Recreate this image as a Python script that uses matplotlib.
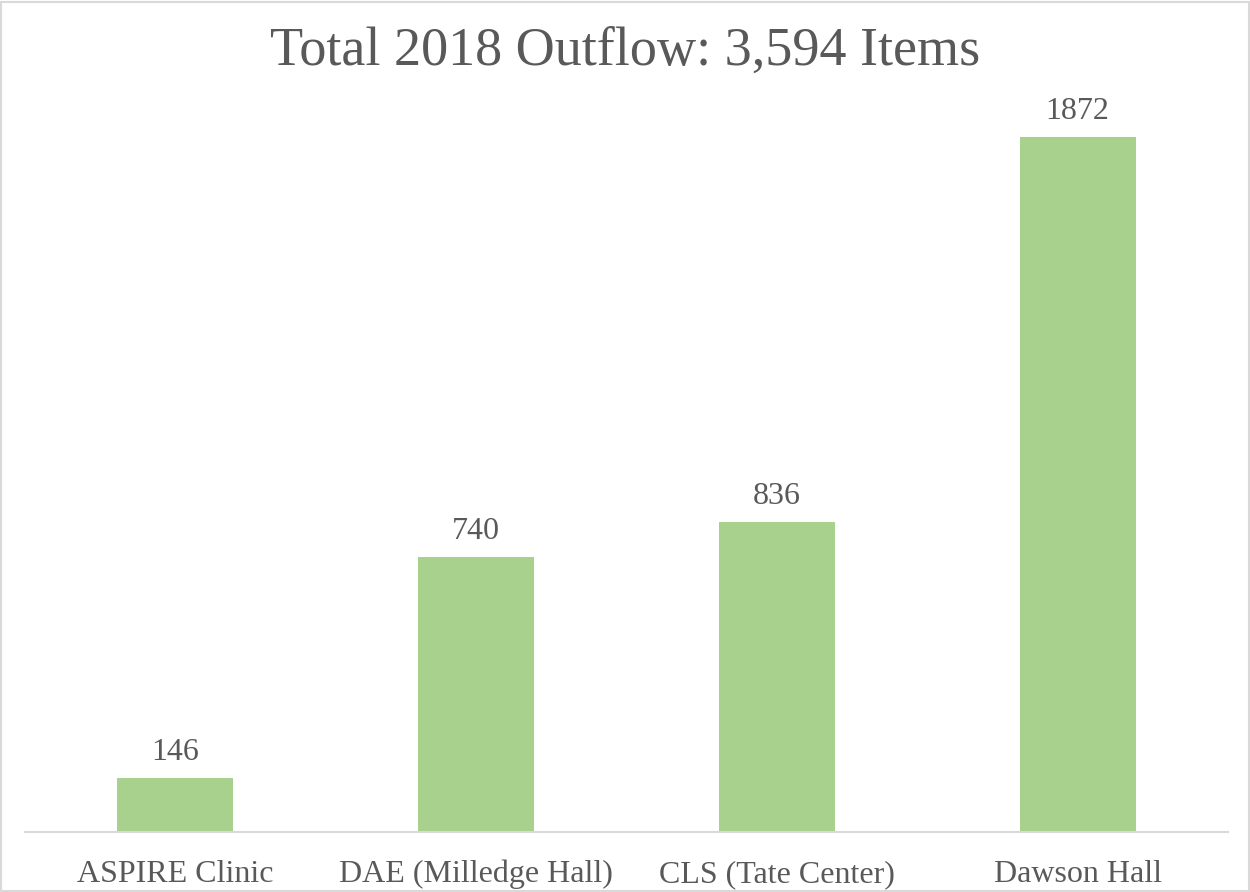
import matplotlib.pyplot as plt
from matplotlib.patches import Rectangle

categories = ['ASPIRE Clinic', 'DAE (Milledge Hall)', 'CLS (Tate Center)', 'Dawson Hall']
values = [146, 740, 836, 1872]
title = 'Total 2018 Outflow: 3,594 Items'

plt.rcParams['font.family'] = ['Liberation Serif', 'DejaVu Serif']
text_col = '#595959'

fig = plt.figure(figsize=(12.5, 8.92), dpi=100)
ax = fig.add_axes([25/1250, 60/892, 1203/1250, 742/892])

x = range(len(categories))
bars = ax.bar(x, values, width=0.385, color='#A9D18E')
ax.set_xlim(-0.5, len(categories) - 0.5)
ax.set_ylim(0, 2000)

for b, v in zip(bars, values):
    ax.text(b.get_x() + b.get_width() / 2, v + 30, str(v), ha='center', va='bottom',
            fontsize=23, color=text_col)

ax.set_xticks(list(x))
ax.set_xticklabels(categories, fontsize=23, color=text_col)
ax.tick_params(axis='x', length=0, pad=20)
ax.set_yticks([])
for s in ['top', 'left', 'right']:
    ax.spines[s].set_visible(False)
ax.spines['bottom'].set_color('#D9D9D9')
ax.spines['bottom'].set_linewidth(1.5)

fig.text(0.5, 1 - 52/892, title, ha='center', va='center', fontsize=39, color=text_col)

fig.patches.append(Rectangle((0.001, 0.001), 0.998, 0.997, transform=fig.transFigure,
                             fill=False, edgecolor='#D9D9D9', linewidth=1.5))

fig.savefig('out.png', dpi=100)
